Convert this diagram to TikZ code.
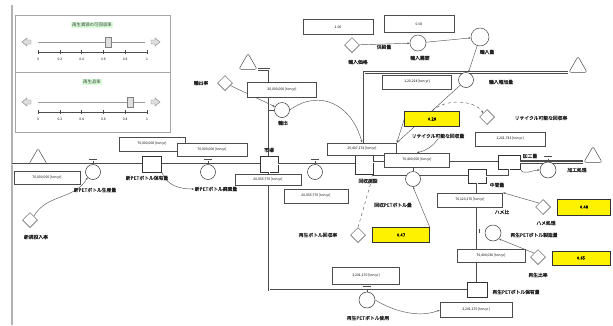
\documentclass[tikz,border=0pt]{standalone}
\usepackage{fontspec}
\setmainfont[AutoFakeBold=1.2]{Noto Sans CJK JP}
\usetikzlibrary{shapes.geometric,arrows.meta,backgrounds}
\begin{document}
\begin{tikzpicture}[x=1pt,y=-1pt,
 valbox/.style={draw=black!70,line width=0.7pt,fill=white,minimum width=66pt,minimum height=13pt,inner sep=0pt,font=\fontsize{3.4}{4}\selectfont},
 stockbox/.style={draw=black!80,line width=0.6pt,fill=white,minimum width=19pt,minimum height=16pt,inner sep=0pt},
 valve/.style={circle,draw=black!80,line width=0.5pt,fill=white,minimum size=15pt,inner sep=0pt},
 conv/.style={circle,draw=black!70,line width=0.5pt,fill=white,minimum size=16pt,inner sep=0pt},
 dia/.style={diamond,draw=black!70,line width=0.5pt,fill=white,minimum size=15pt,inner sep=0pt},
 cloudsh/.style={regular polygon,regular polygon sides=3,draw=black!70,line width=0.5pt,fill=white,minimum size=21pt,inner sep=0pt,rounded corners=2pt},
 ybox/.style={draw=black!80,line width=0.5pt,fill=yellow,minimum width=55pt,minimum height=15pt,inner sep=0pt,font=\fontsize{4.2}{5}\selectfont\bfseries},
 lbl/.style={font=\fontsize{4.8}{5.5}\selectfont\bfseries,inner sep=0.5pt,text=black!85},
 ttl/.style={font=\fontsize{4.4}{5}\selectfont,inner sep=1pt,fill=green!15,text=black!80},
 tick/.style={font=\fontsize{3.3}{4}\selectfont,inner sep=0.5pt},
 pipe/.style={draw=black!70,line width=2.6pt,postaction={draw=white,line width=0.8pt}},
 conn/.style={draw=black!65,line width=0.45pt,-{Stealth[length=2.5pt,width=2pt]}},
 dconn/.style={conn,dashed},
 bar/.style={draw=black!70,line width=0.8pt},
]
\useasboundingbox (0,0) rectangle (613,325);
\begin{scope}[on background layer]
\fill[white] (0,0) rectangle (613,325);
\end{scope}
% left border
\draw[gray!60,line width=1.2pt] (12,5) -- (12,325);
% control panel
\draw[gray!70,line width=0.8pt] (15,15) rectangle (170,132);
\draw[gray!70,line width=0.8pt] (15,72) -- (170,72);
\node[ttl] (t1) at (92,25) {再生資源の可回収率};
\node[ttl] (t2) at (92,82) {再生品率};
\foreach \yy/\kx in {42/108,102/130}{
  \draw[gray!80,line width=0.6pt] (38,\yy) -- (145,\yy);
  \filldraw[fill=gray!25,draw=gray] (\kx-3,\yy-5) rectangle (\kx+3,\yy+5);
  \filldraw[fill=gray!25,draw=gray] (22,\yy) -- (27,\yy-4) -- (27,\yy-2) -- (31,\yy-2) -- (31,\yy+2) -- (27,\yy+2) -- (27,\yy+4) -- cycle;
  \filldraw[fill=gray!25,draw=gray] (160,\yy) -- (155,\yy-4) -- (155,\yy-2) -- (151,\yy-2) -- (151,\yy+2) -- (155,\yy+2) -- (155,\yy+4) -- cycle;
  \draw[black!70,line width=0.4pt] (38,\yy+10) -- (147,\yy+10);
  \foreach \i/\t in {0/0,1/0.2,2/0.4,3/0.6,4/0.8,5/1}{
    \draw[black!70,line width=0.4pt] (38+21.8*\i,\yy+8) -- (38+21.8*\i,\yy+12);
    \node[tick] at (38+21.8*\i,\yy+17) {\t};
  }
}
% stocks
\node[stockbox] (stockA) at (152,164) {};
\node[stockbox,minimum width=18pt] (stockM) at (269,164) {};
\node[stockbox,minimum width=18pt,minimum height=20pt] (stockR) at (364,164) {};
\node[stockbox,minimum width=22pt,minimum height=14pt] (stock4) at (509,162) {};
\node[stockbox,minimum width=18pt,minimum height=14pt] (stock5) at (477,176) {};
\node[stockbox,minimum width=20pt,minimum height=15pt] (stock6) at (477,290) {};
% clouds
\node[cloudsh] (cloudL) at (38,159) {};
\node[cloudsh] (cloudE) at (248,64) {};
\node[cloudsh] (cloudT) at (578,67) {};
\node[cloudsh] (cloudR) at (593,157) {};
\coordinate (leftEnd) at (12,164);
% pipes
\draw[pipe] (leftEnd) -- (stockA.west);
\draw[pipe] (stockA.east) -- (stockM.west);
\draw[pipe] (stockM.east) -- (stockR.west);
\draw[pipe] (stockR.east |- stock4.west) -- (stock4.west);
\draw[pipe] (stockR.east |- stock5.west) -- (stock5.west);
\draw[pipe] (stock5.east) -| (stock4.south);
\draw[pipe,line width=3.2pt] (stock4.east) -- (stock4.east -| cloudR.corner 2);
\draw[pipe] (cloudT.corner 2) -- (cloudT.corner 2 -| stockR.north) -- (stockR.north);
\draw[pipe] (stockM.north) |- (cloudE.corner 3);
\draw[pipe] (stockM.south) |- (stock6.west);
\draw[pipe] (stock5.south) -- (stock6.north);
% valves
\node[valve] (valveA) at (93,172) {};
\node[valve] (valveB) at (208,172) {};
\node[valve] (valveC) at (315,172) {};
\node[valve] (valveE) at (282,110) {};
\node[valve] (valveI) at (466,80) {};
\node[valve] (valveR2) at (413,179) {};
\node[valve,minimum size=16pt] (valveR) at (548,170) {};
\node[valve,minimum size=16pt] (valveV) at (493,233) {};
\node[valve,minimum size=16pt] (valveBot) at (367,300) {};
\foreach \v in {valveA,valveB,valveC,valveR2,valveR,valveBot}{
  \draw[bar] (\v.north) -- ++(0,-3);
  \draw[bar] ([xshift=-4pt,yshift=5pt]\v.north) -- ([xshift=4pt,yshift=5pt]\v.north);
}
\draw[bar] (valveE.west) -- ++(-5,0);
\draw[bar] ([xshift=-5pt]valveV.west) -- ++(0,-4);
\draw[bar] (valveI.north) -- ++(0,-1);
% value boxes
\node[valbox] (b0) at (47,178) {70,000,000 [ton yr]};
\node[valbox,minimum height=14pt] (bA1) at (152,144) {70,000,000 [ton yr]};
\node[valbox,minimum width=70pt] (bA2) at (212,150) {70,000,000 [ton yr]};
\node[valbox,minimum width=70pt,minimum height=15pt] (b1) at (338,27) {1.00};
\node[valbox,minimum width=70pt,minimum height=17pt] (b2) at (419,24) {0.00};
\node[valbox,minimum width=69pt,minimum height=15pt] (b3) at (282,90) {30,000,000 [ton yr]};
\node[valbox,minimum width=69pt,minimum height=14pt] (b4) at (417,82) {1,20,214 [ton yr]};
\node[valbox,minimum width=69pt,minimum height=12pt] (b5) at (362,149) {20,407,174 [ton yr]};
\node[valbox,minimum width=65pt,minimum height=14pt] (b6) at (417,160) {76,400,000 [ton yr]};
\node[valbox,minimum width=70pt,minimum height=14pt] (b7) at (510,139) {1,201,743 [ton yr]};
\node[valbox,minimum height=11pt] (b8) at (268,180) {20,035,770 [ton yr]};
\node[valbox,minimum width=64pt,minimum height=14pt] (b9) at (316,196) {20,035,770 [ton yr]};
\node[valbox,minimum width=65pt,minimum height=14pt] (b10) at (470,200) {70,120,176 [ton yr]};
\node[valbox,minimum width=68pt] (b11) at (491,256) {70,404,030 [ton yr]};
\node[valbox,minimum width=72pt,minimum height=15pt] (b12) at (476,310) {3,201,170 [ton yr]};
\node[valbox,minimum width=67pt,minimum height=17pt] (b13) at (366,276) {3,201,170 [ton yr]};
% converters
\node[conv] (c1) at (418,43) {};
\node[conv,minimum size=18pt] (c2) at (480,37) {};
% diamonds
\node[dia] (d1) at (352,45) {};
\node[dia] (d2) at (225,83) {};
\node[dia] (d3) at (487,117) {};
\node[dia] (d4) at (543,207) {};
\node[dia] (d5) at (538,257) {};
\node[dia] (d6) at (358,235) {};
\node[dia] (d7) at (30,220) {};
% yellow constants
\node[ybox] (y1) at (432,119) {0.28};
\node[ybox,minimum width=57pt] (y2) at (401,235) {0.47};
\node[ybox,minimum width=53pt,minimum height=16pt] (y3) at (584,207) {0.48};
\node[ybox,minimum width=58pt,minimum height=14pt] (y4) at (581,258) {0.65};
% labels
\node[lbl] (lblA) at (95,190) {新PETボトル生産量};
\node[lbl] (lblSA) at (147,178) {新PETボトル保有量};
\node[lbl] (lblB) at (216,189) {新PETボトル廃棄量};
\node[lbl] (lblM) at (269,150) {市場};
\node[lbl] (lblE) at (283,123) {輸出};
\node[lbl] (lblR) at (368,181) {回収施設};
\node[lbl] (lblD1) at (358,62) {輸入価格};
\node[lbl] (lblS) at (384,47) {供給量};
\node[lbl] (lblC1) at (420,58) {輸入需要};
\node[lbl] (lblC2) at (487,52) {輸入量};
\node[lbl] (lblI) at (501,82) {輸入増加量};
\node[lbl] (lblD2) at (201,83) {輸出率};
\node[lbl] (lblD3) at (541,118) {リサイクル可能な回収率};
\node[lbl] (lblRC) at (438,136) {リサイクル可能な回収量};
\node[lbl] (lblP) at (530,156) {加工量};
\node[lbl] (lblPR) at (577,170) {加工処理};
\node[lbl] (lblMid) at (497,185) {中間量};
\node[lbl] (lblR2) at (393,205) {回収PETボトル量};
\node[lbl] (lblH) at (502,212) {ハメ比};
\node[lbl] (lblD4) at (546,223) {ハメ処理};
\node[lbl] (lblV) at (534,235) {再生PETボトル製造量};
\node[lbl] (lblD5) at (538,275) {再生比率};
\node[lbl] (lblS6) at (516,292) {再生PETボトル保有量};
\node[lbl] (lblBot) at (368,318) {再生PETボトル使用};
\node[lbl] (lblD6) at (318,235) {再生ボトル回収率};
\node[lbl] (lblD7) at (36,237) {新規投入率};
% connectors
\begin{scope}[on background layer]
\draw[conn] (d1) -- (c1);
\draw[conn] (c1) -- (c2);
\draw[conn] (c2) -- (valveI);
\draw[conn] (valveI) -- (b5.north east);
\draw[conn] (d2) -- (valveE);
\draw[conn] (valveE.east) .. controls (320,88) and (352,105) .. (b5.north);
\draw[dconn] (y1.north) .. controls (445,98) and (475,100) .. (d3.north west);
\draw[conn] (y1.west) -- (b5.north east);
\draw[conn] (lblRC.south) to[bend left=20] (b6.north);
\draw[dconn] (d6.north) -- (stockR.south east);
\draw[conn] (y2.north east) -- (valveR2.south);
\draw[conn] (d7.north east) to[out=60,in=-120] (valveA.south west);
\draw[conn] (stockA.south east) to[out=-70,in=180] (lblB.west);
\draw[conn] (d4.north west) -- (b10.north east);
\draw[conn] (d5.north west) -- (valveV.south east);
\draw[conn] (valveBot.east) .. controls (395,312) and (420,318) .. (b12.west);
\draw[conn] (stock4.south east) to[out=-60,in=180] (valveR.west);
\end{scope}
\end{tikzpicture}
\end{document}
